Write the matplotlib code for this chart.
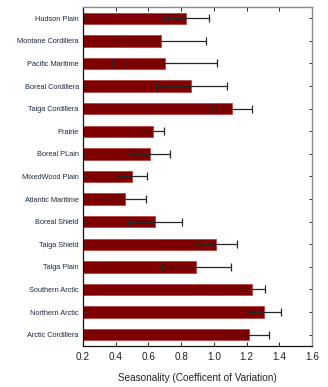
import matplotlib.pyplot as plt
import numpy as np

plt.rcParams['font.family'] = ['Liberation Sans', 'DejaVu Sans']

# ecozones, listed bottom to top
ecozones = ["Arctic Cordillera", "Northern Arctic", "Southern Arctic", "Taiga Plain",
            "Taiga Shield", "Boreal Shield", "Atlantic Maritime", "MixedWood Plain",
            "Boreal PLain", "Prairie", "Taiga Cordillera", "Boreal Cordillera",
            "Pacific Maritime", "Montane Cordillera", "Hudson Plain"]
cv_mean = [1.215, 1.305, 1.235, 0.893, 1.014, 0.640, 0.455, 0.500,
           0.607, 0.627, 1.112, 0.863, 0.700, 0.680, 0.832]
cv_err = [0.124, 0.105, 0.079, 0.210, 0.130, 0.165, 0.132, 0.090,
          0.123, 0.070, 0.123, 0.216, 0.321, 0.270, 0.139]
xticks = [0.2, 0.4, 0.6, 0.8, 1.0, 1.2, 1.4, 1.6]

fig = plt.figure(figsize=(3.28, 3.87), dpi=100)
ax = fig.add_axes([0.253, 0.106, 0.698, 0.876])

y = np.arange(len(ecozones))
ax.barh(y, cv_mean, height=0.5, color='#7f0000', edgecolor='#b44848', linewidth=0.6)
ax.errorbar(cv_mean, y, xerr=cv_err, fmt='none', ecolor='#262626',
            elinewidth=0.9, capsize=3.2, capthick=0.9)

ax.set_xlim(0.2, 1.6)
ax.set_ylim(-0.5, len(ecozones) - 0.5)
ax.set_xticks(xticks)
ax.set_xticklabels([f"{t:.1f}" for t in xticks], fontsize=7.2, color='#222222')
ax.set_yticks(y)
ax.set_yticklabels(ecozones, fontsize=5.3, color='#1c2a44')
ax.set_xlabel("Seasonality (Coefficent of Variation)", fontsize=7.2,
              color='#222222', labelpad=8)

ax.tick_params(axis='x', direction='in', length=3, width=0.7, top=True,
               pad=4, colors='#222222')
ax.tick_params(axis='x', labelcolor='#222222')
ax.tick_params(axis='y', direction='in', length=2, width=0.7, right=True,
               pad=3, color='#333333')

for side in ['top', 'right']:
    ax.spines[side].set_color('#8a8a8a')
    ax.spines[side].set_linewidth(1.0)
for side in ['left', 'bottom']:
    ax.spines[side].set_color('#111111')
    ax.spines[side].set_linewidth(0.9)

plt.savefig("out.png", dpi=100)
